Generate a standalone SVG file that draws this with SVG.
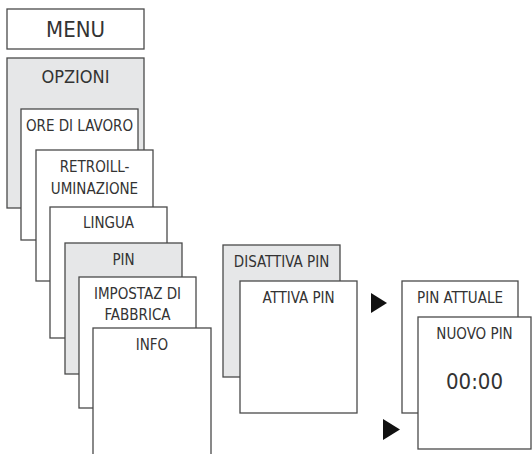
<svg xmlns="http://www.w3.org/2000/svg" width="532" height="454" viewBox="0 0 532 454">
<style>
.b{fill:#fff;stroke:#4a4a4a;stroke-width:1.3}
.g{fill:#e6e7e8;stroke:#4a4a4a;stroke-width:1.3}
text{font-family:"DejaVu Sans Condensed","DejaVu Sans",sans-serif;font-stretch:condensed;fill:#333;text-anchor:middle;font-size:15px}
.l{font-size:22px}
.m{font-size:18px}
.arr{fill:#111}
</style>
<rect width="532" height="454" fill="#fff"/>
<g id="menu"><rect class="b" x="7" y="9" width="137" height="40"/><text class="l" x="75.5" y="37">MENU</text></g>
<g id="opzioni"><rect class="g" x="7" y="58" width="137" height="150"/><text class="m" x="75.5" y="83">OPZIONI</text></g>
<g id="ore"><rect class="b" x="21" y="109" width="117" height="131"/><text x="79.5" y="131">ORE DI LAVORO</text></g>
<g id="retro"><rect class="b" x="36" y="150" width="117" height="131"/><text x="94.5" y="172">RETROILL-</text><text x="94.5" y="194">UMINAZIONE</text></g>
<g id="lingua"><rect class="b" x="50" y="207" width="117" height="131"/><text x="108.5" y="228">LINGUA</text></g>
<g id="pin"><rect class="g" x="65" y="243" width="117" height="131"/><text x="123.5" y="265">PIN</text></g>
<g id="impostaz"><rect class="b" x="79" y="277" width="117" height="131"/><text x="137.5" y="299">IMPOSTAZ DI</text><text x="137.5" y="320">FABBRICA</text></g>
<g id="info"><rect class="b" x="93" y="328" width="118" height="140"/><text x="152" y="350">INFO</text></g>
<g id="disattiva"><rect class="g" x="223" y="245" width="117" height="132"/><text x="281.5" y="267">DISATTIVA PIN</text></g>
<g id="attiva"><rect class="b" x="240" y="281" width="117" height="132"/><text x="298.5" y="303">ATTIVA PIN</text></g>
<g id="attuale"><rect class="b" x="402" y="281" width="116" height="132"/><text x="460" y="303">PIN ATTUALE</text></g>
<g id="nuovo"><rect class="b" x="418" y="317" width="113" height="132"/><text x="474.5" y="339">NUOVO PIN</text><text class="l" x="474.5" y="389">00:00</text></g>
<g id="connectors">
<polygon class="arr" points="371,293 387,303 371,313"/>
<polygon class="arr" points="383,419 400,429.5 383,440"/>
</g>
</svg>
